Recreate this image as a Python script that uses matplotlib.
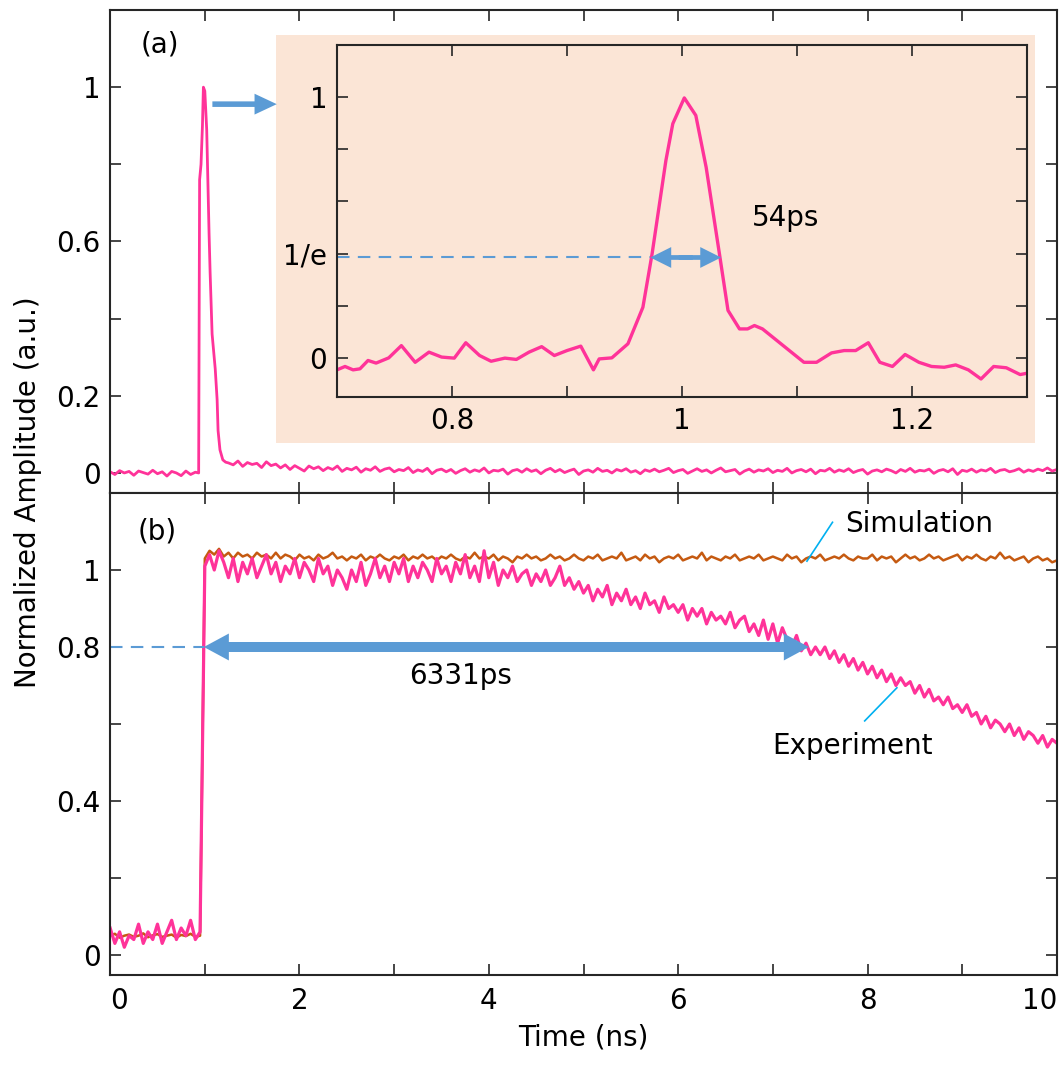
import matplotlib.pyplot as plt
from matplotlib.patches import Rectangle
import numpy as np

plt.rcParams['font.family'] = ['DejaVu Sans']
plt.rcParams['font.size'] = 20

PINK = '#FF3399'
ORANGE = '#C55A11'
BLUE = '#5B9BD5'
CYAN = '#00B0F0'
PEACH = '#FBE5D6'

# ---- panel (a): single pulse ----
a_pre_t = np.linspace(0, 0.9, 19)
a_pre = [0.003, -0.004, 0.006, 0.0, 0.004, -0.006, 0.005, 0.001, -0.003, 0.007,
         -0.002, 0.003, -0.008, 0.004, 0.0, -0.007, 0.005, -0.004, 0.002]

a_pulse_t = [0.935, 0.945, 0.96, 0.975, 0.985, 1.0, 1.02, 1.045, 1.056, 1.077,
             1.11, 1.13, 1.14, 1.16, 1.19, 1.22]
a_pulse = [0.0, 0.76, 0.8, 0.9, 1.0, 0.99, 0.89, 0.62, 0.52, 0.36,
           0.27, 0.19, 0.11, 0.06, 0.034, 0.028]

a_post_t = np.linspace(1.25, 10, 176)
a_post = [0.026, 0.021, 0.031, 0.017, 0.027, 0.022, 0.025, 0.014, 0.029, 0.019,
          0.023, 0.013, 0.021, 0.009, 0.019, 0.012, 0.005, 0.018, 0.011, 0.016,
          0.006, 0.014, 0.009, 0.018, 0.004, 0.012, 0.008, 0.015, 0.002, 0.011,
          0.007, 0.016, 0.004, 0.01, 0.013, 0.003, 0.009, 0.006, 0.014, 0.001,
          0.008, 0.004, 0.012, -0.002, 0.007, 0.01, 0.003, 0.009, -0.001, 0.006,
          0.011, 0.002, 0.008, 0.004, 0.013, 0.0, 0.007, 0.005, 0.01, -0.003,
          0.006, 0.009, 0.002, 0.011, 0.004, 0.008, -0.002, 0.007, 0.012, 0.003,
          0.009, 0.001, 0.006, 0.01, -0.004, 0.005, 0.008, 0.002, 0.012, 0.004,
          0.007, 0.0, 0.009, 0.005, 0.011, 0.002, 0.006, -0.002, 0.008, 0.004,
          0.01, 0.003, 0.007, 0.012, 0.001, 0.006, 0.009, -0.001, 0.005, 0.011,
          0.004, 0.008, 0.0, 0.007, 0.013, 0.003, 0.006, 0.009, -0.003, 0.005,
          0.01, 0.002, 0.008, 0.005, 0.011, 0.001, 0.007, 0.004, 0.012, 0.0,
          0.006, 0.009, 0.003, 0.01, -0.002, 0.007, 0.005, 0.012, 0.002, 0.008,
          0.004, 0.011, 0.001, 0.006, 0.009, -0.003, 0.005, 0.008, 0.003, 0.01,
          0.006, 0.0, 0.009, 0.004, 0.012, 0.002, 0.007, 0.005, 0.01, -0.001,
          0.006, 0.009, 0.003, 0.011, -0.004, 0.007, 0.004, 0.01, 0.002, 0.008,
          0.005, 0.012, 0.001, 0.007, 0.009, 0.003, 0.006, 0.011, 0.002, 0.008,
          0.004, 0.01, 0.006, 0.013, 0.005, 0.009]

# inset (zoom on the pulse)
in_t = [0.7, 0.707, 0.714, 0.72, 0.727, 0.734, 0.745, 0.756, 0.768, 0.78,
        0.791, 0.802, 0.812, 0.824, 0.834, 0.846, 0.856, 0.867, 0.878, 0.889,
        0.9, 0.912, 0.923, 0.928, 0.939, 0.953, 0.966, 0.974, 0.986, 0.992,
        1.002, 1.012, 1.021, 1.033, 1.04, 1.05, 1.057, 1.063, 1.07, 1.106,
        1.117, 1.13, 1.141, 1.151, 1.162, 1.172, 1.183, 1.194, 1.206, 1.217,
        1.228, 1.238, 1.249, 1.26, 1.271, 1.282, 1.294, 1.3]
in_v = [-0.046, -0.033, -0.046, -0.042, -0.010, -0.020, 0.0, 0.047, -0.017, 0.022,
        0.003, -0.001, 0.058, 0.009, -0.013, -0.001, -0.006, 0.022, 0.043, 0.009,
        0.028, 0.045, -0.046, -0.004, 0.0, 0.054, 0.194, 0.399, 0.757, 0.898,
        0.997, 0.93, 0.731, 0.386, 0.182, 0.111, 0.111, 0.124, 0.111, -0.017,
        -0.017, 0.019, 0.028, 0.028, 0.058, -0.017, -0.033, 0.013, -0.017, -0.033,
        -0.036, -0.027, -0.046, -0.081, -0.033, -0.038, -0.064, -0.059]

# ---- panel (b): step response ----
b_t = np.linspace(0, 10, 201)
experiment = [0.07, 0.03, 0.06, 0.02, 0.05, 0.04, 0.08, 0.03, 0.06, 0.04,
              0.08, 0.03, 0.06, 0.09, 0.04, 0.07, 0.05, 0.09, 0.04, 0.06,
              1.01, 1.04, 1.0, 1.05, 1.02, 0.98, 1.03, 0.97, 1.02, 0.99,
              1.03, 0.98, 1.01, 1.04, 0.99, 1.02, 0.97, 1.01, 0.99, 1.03,
              0.98, 1.02, 1.0, 0.97, 1.03, 0.99, 1.01, 0.96, 1.0, 0.98,
              0.95, 1.0, 0.97, 1.02, 0.96, 0.99, 1.03, 0.98, 1.01, 0.97,
              1.02, 0.99, 1.03, 0.97, 1.01, 0.98, 1.02, 1.0, 0.97, 1.03,
              0.99, 1.01, 0.97, 1.02, 0.99, 1.04, 0.98, 1.01, 0.97, 1.05,
              0.98, 1.02, 0.96, 1.0, 0.98, 1.01, 0.97, 0.99, 1.0, 0.96,
              0.99, 0.97, 1.0, 0.96, 0.98, 1.01, 0.96, 0.98, 0.95, 0.97,
              0.94, 0.96, 0.92, 0.95, 0.93, 0.96, 0.91, 0.94, 0.92, 0.95,
              0.91, 0.93, 0.9, 0.94, 0.91, 0.92, 0.89, 0.93, 0.9, 0.91,
              0.89, 0.91, 0.87, 0.9, 0.88, 0.9, 0.86, 0.89, 0.87, 0.88,
              0.86, 0.89, 0.85, 0.87, 0.88, 0.84, 0.86, 0.83, 0.87, 0.82,
              0.86, 0.81, 0.85, 0.82, 0.8, 0.83, 0.79, 0.81, 0.78, 0.8,
              0.78, 0.8, 0.77, 0.79, 0.76, 0.78, 0.75, 0.77, 0.74, 0.76,
              0.73, 0.75, 0.72, 0.74, 0.71, 0.73, 0.7, 0.72, 0.7, 0.71,
              0.68, 0.7, 0.67, 0.69, 0.66, 0.67, 0.65, 0.67, 0.64, 0.65,
              0.63, 0.65, 0.62, 0.63, 0.6, 0.62, 0.59, 0.61, 0.6, 0.58,
              0.6, 0.57, 0.59, 0.56, 0.58, 0.57, 0.55, 0.57, 0.54, 0.56,
              0.55]
simulation = [0.05, 0.055, 0.045, 0.05, 0.053, 0.047, 0.05, 0.056, 0.046, 0.051,
              0.054, 0.047, 0.05, 0.053, 0.045, 0.052, 0.049, 0.055, 0.047, 0.05,
              1.03, 1.05, 1.04, 1.055, 1.035, 1.045, 1.03, 1.045, 1.035, 1.04,
              1.03, 1.045, 1.035, 1.04, 1.03, 1.045, 1.03, 1.04, 1.035, 1.025,
              1.04, 1.03, 1.035, 1.025, 1.04, 1.03, 1.035, 1.045, 1.03, 1.035,
              1.025, 1.035, 1.03, 1.04, 1.025, 1.035, 1.03, 1.04, 1.03, 1.025,
              1.035, 1.03, 1.04, 1.025, 1.035, 1.03, 1.04, 1.03, 1.035, 1.025,
              1.035, 1.03, 1.04, 1.03, 1.025, 1.035, 1.03, 1.045, 1.03, 1.035,
              1.03, 1.04, 1.025, 1.035, 1.03, 1.02, 1.035, 1.03, 1.04, 1.03,
              1.035, 1.025, 1.03, 1.04, 1.03, 1.035, 1.025, 1.03, 1.04, 1.03,
              1.025, 1.035, 1.03, 1.04, 1.025, 1.03, 1.035, 1.03, 1.045, 1.025,
              1.03, 1.035, 1.025, 1.04, 1.03, 1.035, 1.02, 1.03, 1.035, 1.03,
              1.04, 1.025, 1.03, 1.035, 1.03, 1.045, 1.025, 1.035, 1.03, 1.025,
              1.035, 1.03, 1.04, 1.025, 1.03, 1.035, 1.03, 1.04, 1.025, 1.03,
              1.035, 1.03, 1.025, 1.04, 1.03, 1.035, 1.02, 1.03, 1.035, 1.03,
              1.04, 1.025, 1.03, 1.035, 1.03, 1.04, 1.03, 1.025, 1.035, 1.03,
              1.03, 1.04, 1.025, 1.035, 1.03, 1.035, 1.02, 1.03, 1.04, 1.03,
              1.035, 1.025, 1.03, 1.04, 1.03, 1.035, 1.025, 1.03, 1.035, 1.04,
              1.025, 1.035, 1.03, 1.04, 1.03, 1.025, 1.035, 1.03, 1.045, 1.03,
              1.035, 1.025, 1.03, 1.035, 1.02, 1.03, 1.035, 1.025, 1.03, 1.02,
              1.025]


def style_axes(ax, size=20):
    ax.tick_params(direction='in', top=True, right=True, length=8, width=1.2,
                   labelsize=size, pad=7, color='#262626')
    for s in ax.spines.values():
        s.set_linewidth(1.5)
        s.set_color('#262626')


def double_arrow(ax, x0, x1, y, hl, hw, tw, ms=20):
    # two half arrows that overlap in the middle, so the shaft has no seam
    xm = (x0 + x1) / 2
    ov = (x1 - x0) * 0.1
    style = 'simple,head_length=%g,head_width=%g,tail_width=%g' % (hl, hw, tw)
    for xe, xs in ((x0, xm + ov), (x1, xm - ov)):
        ax.annotate('', xy=(xe, y), xytext=(xs, y),
                    arrowprops=dict(arrowstyle=style, color=BLUE, lw=0,
                                    mutation_scale=ms, shrinkA=0, shrinkB=0),
                    zorder=5)


fig = plt.figure(figsize=(10.59, 10.66), dpi=100)
ax_a = fig.add_axes([0.104, 0.5375, 0.894, 0.4531])
ax_b = fig.add_axes([0.104, 0.0854, 0.894, 0.4521])

# ---- (a) ----
ax_a.plot(np.concatenate([a_pre_t, a_pulse_t, a_post_t]),
          np.concatenate([a_pre, a_pulse, a_post]), color=PINK, lw=2.0)
ax_a.set_xlim(0, 10)
ax_a.set_ylim(-0.052, 1.2)
ax_a.set_xticks(range(11))
ax_a.tick_params(labelbottom=False)
ax_a.set_yticks([0, 0.2, 0.4, 0.6, 0.8, 1])
ax_a.set_yticklabels(['0', '0.2', '', '0.6', '', '1'])
style_axes(ax_a)
ax_a.text(0.53, 1.11, '(a)', ha='center', va='center', fontsize=20)
ax_a.annotate('', xy=(1.76, 0.956), xytext=(1.08, 0.956),
              arrowprops=dict(arrowstyle='simple,head_length=0.8,head_width=0.75,tail_width=0.2',
                              color=BLUE, lw=0, mutation_scale=20, shrinkA=0, shrinkB=0))

# peach box behind the inset
ax_a.add_patch(Rectangle((0.2606, 0.5844), 0.7167, 0.3828, transform=fig.transFigure,
                         facecolor=PEACH, edgecolor='none', clip_on=False, zorder=1))

ax_in = fig.add_axes([0.3182, 0.6276, 0.6516, 0.3302], facecolor=PEACH, zorder=3)
ax_in.plot(in_t, in_v, color=PINK, lw=2.4)
ax_in.set_xlim(0.7, 1.3)
ax_in.set_ylim(-0.15, 1.2)
ax_in.set_xticks([0.8, 0.9, 1.0, 1.1, 1.2])
ax_in.set_xticklabels(['0.8', '', '1', '', '1.2'])
ax_in.set_yticks([0, 0.2, 0.4, 0.6, 0.8, 1])
ax_in.set_yticklabels(['0', '', '1/e', '', '', '1'])
style_axes(ax_in, 20)
ax_in.plot([0.7, 0.9725], [0.385, 0.385], color=BLUE, lw=1.5, dashes=(6, 4))
double_arrow(ax_in, 0.9725, 1.034, 0.385, 0.75, 0.75, 0.17)
ax_in.text(1.09, 0.535, '54ps', ha='center', va='center', fontsize=20)

# ---- (b) ----
ax_b.plot(b_t, simulation, color=ORANGE, lw=1.8)
ax_b.plot(b_t, experiment, color=PINK, lw=2.3)
ax_b.set_xlim(0, 10)
ax_b.set_ylim(-0.052, 1.2)
ax_b.set_xticks(range(11))
ax_b.set_xticklabels([str(i) if i % 2 == 0 else '' for i in range(11)])
ax_b.set_yticks([0, 0.2, 0.4, 0.6, 0.8, 1])
ax_b.set_yticklabels(['0', '', '0.4', '', '0.8', '1'])
style_axes(ax_b)
ax_b.tick_params(axis='x', pad=9)
xl = ax_b.get_xticklabels()
xl[0].set_horizontalalignment('left')
xl[-1].set_horizontalalignment('right')
ax_b.set_xlabel('Time (ns)', fontsize=20, labelpad=6)
ax_b.text(0.5, 1.10, '(b)', ha='center', va='center', fontsize=20)

ax_b.plot([0, 0.99], [0.8, 0.8], color=BLUE, lw=1.5, dashes=(6, 4))
double_arrow(ax_b, 0.99, 7.38, 0.8, 0.9, 0.97, 0.36)
ax_b.text(3.7, 0.725, '6331ps', ha='center', va='center', fontsize=20)

ax_b.text(8.55, 1.12, 'Simulation', ha='center', va='center', fontsize=20)
ax_b.plot([7.36, 7.63], [1.023, 1.124], color=CYAN, lw=1.2)
ax_b.text(7.84, 0.543, 'Experiment', ha='center', va='center', fontsize=20)
ax_b.plot([7.97, 8.31], [0.608, 0.694], color=CYAN, lw=1.2)

fig.text(0.026, 0.5385, 'Normalized Amplitude (a.u.)', rotation=90,
         ha='center', va='center', fontsize=20)

fig.savefig('out.png', dpi=100)
